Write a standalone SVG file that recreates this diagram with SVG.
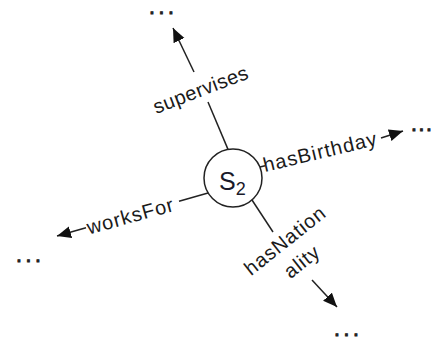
<svg xmlns="http://www.w3.org/2000/svg" width="431" height="343" viewBox="0 0 431 343">
  <style>
    .lbl { font-family: "Liberation Sans", Arial, sans-serif; font-size: 20px; fill: #1a1a1a; }
    .dots { font-family: "Liberation Sans", Arial, sans-serif; font-size: 14px; font-weight: bold; fill: #222; stroke: #222; stroke-width: 1; letter-spacing: 5.6px; }
    .conn { stroke: #222; stroke-width: 1.5; fill: none; }
    .node { fill: #fff; stroke: #222; stroke-width: 1.5; }
  </style>
  <defs>
    <marker id="ah" markerUnits="userSpaceOnUse" markerWidth="18" markerHeight="16" refX="14" refY="6" orient="auto">
      <path d="M0,0 L14,6 L0,12 z" fill="#111"/>
    </marker>
  </defs>
  <rect width="431" height="343" fill="#fff"/>

  <g id="connectors">
    <!-- supervises -->
    <line class="conn" x1="228" y1="149.4" x2="208" y2="102"/>
    <line class="conn" x1="194" y1="72" x2="173" y2="28" marker-end="url(#ah)"/>
    <!-- hasBirthday -->
    <line class="conn" x1="260" y1="167" x2="265" y2="165.8"/>
    <line class="conn" x1="381" y1="138" x2="403" y2="131" marker-end="url(#ah)"/>
    <!-- worksFor -->
    <line class="conn" x1="208" y1="193" x2="179" y2="201.3"/>
    <line class="conn" x1="86" y1="227.7" x2="57" y2="236" marker-end="url(#ah)"/>
    <!-- hasNationality -->
    <line class="conn" x1="252" y1="200" x2="273" y2="232"/>
    <line class="conn" x1="312" y1="280" x2="337" y2="307" marker-end="url(#ah)"/>

    <text class="lbl" transform="translate(203,96) rotate(-21)" text-anchor="middle" textLength="100" lengthAdjust="spacing">supervises</text>
    <text class="lbl" transform="translate(265,172) rotate(-13.5)" textLength="116" lengthAdjust="spacing">hasBirthday</text>
    <text class="lbl" transform="translate(89,234.5) rotate(-15.5)" textLength="89" lengthAdjust="spacing">worksFor</text>
    <g transform="translate(289,246) rotate(-38.5)">
      <text class="lbl" x="0" y="0" text-anchor="middle" textLength="97" lengthAdjust="spacing">hasNation</text>
      <text class="lbl" x="0" y="27" text-anchor="middle" textLength="39" lengthAdjust="spacing">ality</text>
    </g>
  </g>

  <g id="s2">
    <circle class="node" cx="233" cy="178" r="29"/>
    <text x="219" y="190" font-family="Liberation Sans, Arial, sans-serif" font-size="25" fill="#1a1a2a">S<tspan font-size="18" dy="5">2</tspan></text>
  </g>

  <g id="dots-top"><text class="dots" x="150" y="14">...</text></g>
  <g id="dots-right"><text class="dots" x="412" y="131" style="letter-spacing:0">.<tspan dx="3.6">.</tspan><tspan dx="3.6">.</tspan></text></g>
  <g id="dots-left"><text class="dots" x="17" y="262">...</text></g>
  <g id="dots-bottom"><text class="dots" x="335" y="336">...</text></g>
</svg>
